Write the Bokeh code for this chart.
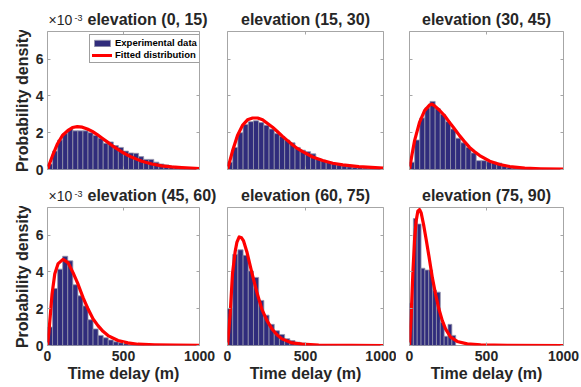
from bokeh.plotting import figure
from bokeh.models import Range1d, LinearAxis, FixedTicker, Legend, LegendItem, Label
from bokeh.layouts import row, column
from bokeh.embed import file_html
from bokeh.resources import INLINE

# ---------------- data (probability density in units of 1e-3) ----------------
titles = ["elevation (0, 15)", "elevation (15, 30)", "elevation (30, 45)",
          "elevation (45, 60)", "elevation (60, 75)", "elevation (75, 90)"]
x_ticks = [0, 500, 1000]
y_ticks = [0, 2, 4, 6]
y_exponent = "-3"
bin_widths = [33.3, 33.3, 33.3, 33.3, 33.3, 25.0]

hist1 = [0.3, 1.0, 1.6, 1.95, 2.2, 2.1, 2.1, 2.1, 2.0, 1.85, 1.7, 1.42, 1.5, 1.3, 1.2,
         1.0, 0.9, 0.88, 0.7, 0.55, 0.55, 0.4, 0.3, 0.25, 0.18, 0.15, 0.12, 0.1, 0.07, 0.05]
hist2 = [0.4, 1.2, 2.0, 2.45, 2.6, 2.65, 2.55, 2.4, 2.2, 1.95, 1.8, 1.6, 1.45, 1.2, 1.05,
         0.97, 0.85, 0.6, 0.5, 0.4, 0.32, 0.25, 0.2, 0.15, 0.12, 0.1, 0.08, 0.06, 0.04, 0.03]
hist3 = [0.4, 1.6, 2.8, 3.35, 3.7, 3.3, 3.0, 2.6, 2.2, 1.7, 1.45, 1.2, 0.9, 0.48, 0.48,
         0.42, 0.4, 0.35, 0.2, 0.12, 0.08, 0.05, 0.04, 0.03, 0.02, 0.01, 0.01, 0.01, 0.0, 0.0]
hist4 = [1.0, 3.1, 4.15, 4.85, 4.6, 3.3, 2.7, 2.15, 1.4, 0.9, 0.55, 0.42, 0.3, 0.2, 0.15,
         0.1, 0.06, 0.04, 0.03, 0.02, 0.01, 0.01, 0.0, 0.0, 0.0, 0.0, 0.0, 0.0, 0.0, 0.0]
hist5 = [2.0, 4.95, 5.2, 4.9, 4.05, 3.7, 2.45, 1.65, 1.15, 0.8, 0.6, 0.37, 0.27, 0.18, 0.14,
         0.1, 0.05, 0.04, 0.03, 0.02, 0.01, 0.0, 0.0, 0.0, 0.0, 0.0, 0.0, 0.0, 0.0, 0.0]
hist6 = [2.3, 6.9, 6.6, 4.2, 4.1, 4.1, 3.0, 2.9, 1.25, 0.5, 1.15, 0.55]

fit1_x = [0, 15, 33, 66, 98, 131, 164, 196, 229, 262, 295, 327, 360, 393, 425, 458, 490,
          523, 556, 589, 621, 687, 752, 817, 883, 1000]
fit1_y = [0, 0.35, 0.75, 1.4, 1.85, 2.1, 2.28, 2.33, 2.3, 2.2, 2.07, 1.9, 1.7, 1.5, 1.3,
          1.12, 0.95, 0.8, 0.66, 0.55, 0.45, 0.3, 0.2, 0.14, 0.1, 0.05]
fit2_x = [0, 16, 32, 64, 96, 128, 161, 193, 225, 257, 289, 321, 353, 385, 418, 450, 482,
          546, 610, 675, 739, 842, 1000]
fit2_y = [0, 0.5, 1.0, 1.85, 2.4, 2.7, 2.8, 2.8, 2.7, 2.5, 2.3, 2.05, 1.8, 1.57, 1.33,
          1.13, 0.97, 0.68, 0.49, 0.34, 0.25, 0.16, 0.08]
fit3_x = [0, 16, 33, 65, 98, 130, 145, 163, 195, 228, 260, 293, 325, 358, 390, 423, 456,
          521, 586, 651, 748, 853, 1000]
fit3_y = [0, 0.8, 1.57, 2.56, 3.2, 3.5, 3.55, 3.46, 3.22, 2.92, 2.56, 2.2, 1.84, 1.51,
          1.2, 0.97, 0.76, 0.45, 0.27, 0.16, 0.07, 0.04, 0.02]
fit4_x = [0, 10, 20, 30, 48, 70, 102, 135, 168, 201, 234, 267, 300, 332, 365, 398, 464,
          529, 595, 704, 835, 1000]
fit4_y = [0, 0.8, 1.8, 2.8, 3.9, 4.45, 4.68, 4.5, 3.96, 3.33, 2.6, 1.98, 1.44, 1.08, 0.77,
          0.54, 0.27, 0.14, 0.07, 0.04, 0.02, 0.01]
fit5_x = [0, 17, 32, 49, 60, 75, 90, 103, 124, 156, 188, 220, 253, 285, 317, 349, 413,
          478, 585, 1000]
fit5_y = [0, 1.7, 3.9, 5.1, 5.6, 5.9, 5.85, 5.68, 5.1, 3.96, 2.9, 1.98, 1.35, 0.9, 0.58,
          0.36, 0.14, 0.07, 0.02, 0.0]
fit6_x = [0, 11, 22, 33, 43, 54, 65, 76, 93, 108, 126, 148, 169, 191, 213, 234, 267, 310,
          375, 462, 636, 1000]
fit6_y = [0, 1.6, 3.96, 5.77, 6.76, 7.3, 7.39, 7.2, 6.5, 5.77, 4.86, 3.7, 2.8, 1.98, 1.35,
          0.9, 0.45, 0.22, 0.09, 0.04, 0.01, 0.0]

hists = [hist1, hist2, hist3, hist4, hist5, hist6]
fits = [(fit1_x, fit1_y), (fit2_x, fit2_y), (fit3_x, fit3_y),
        (fit4_x, fit4_y), (fit5_x, fit5_y), (fit6_x, fit6_y)]

# ---------------- layout / style ----------------
TOTAL_W = 581
W = [218, 178, 185]
H = [188, 199]
BL = [47, 9, 13]
BR = [19, 13, 18]
BT = [31, 19]
BB = [19, 42]
PAD = 1                 # part of the top border kept inside each panel
FONT = "Liberation Sans"
BAR_FILL = "#302c7c"
BAR_LINE = "#9494aa"
RED = "#ff0000"
BOX = "#a6a6a6"
TXT = "#262626"

# frame left/right edges in page pixels (for placing the header texts)
frame_left = [BL[0], W[0] + BL[1], W[0] + W[1] + BL[2]]
frame_right = [W[0] - BR[0], W[0] + W[1] - BR[1], TOTAL_W - BR[2]]


def add_axis(p, side, ticks, labels, axis_label=None):
    ax = LinearAxis(ticker=FixedTicker(ticks=ticks))
    ax.axis_line_color = None
    ax.major_tick_in = 3
    ax.major_tick_out = 0
    ax.major_tick_line_color = BOX
    ax.minor_tick_line_color = None
    if labels:
        ax.major_label_text_font = FONT
        ax.major_label_text_font_size = "14px"
        ax.major_label_text_font_style = "bold"
        ax.major_label_text_color = TXT
        ax.major_label_standoff = 4 if side == "left" else 5
    else:
        ax.major_label_text_color = None
        ax.major_label_text_font_size = "0px"
        ax.major_label_standoff = 0
    if axis_label:
        ax.axis_label = axis_label
        ax.axis_label_text_font = FONT
        ax.axis_label_text_font_size = "16px"
        ax.axis_label_text_font_style = "bold"
        ax.axis_label_text_color = TXT
        ax.axis_label_standoff = 2 if side == "left" else 1
    p.add_layout(ax, side)
    return ax


def make_header(r):
    """Full-width strip above a row of panels: exponent label and the three titles."""
    h = BT[r] - PAD
    hp = figure(width=TOTAL_W, height=h, x_range=Range1d(0, TOTAL_W),
                y_range=Range1d(0, h), title=None,
                output_backend="svg", toolbar_location=None,
                x_axis_location=None, y_axis_location=None, min_border=0,
                min_border_left=0, min_border_right=0, min_border_top=0, min_border_bottom=0)
    hp.grid.visible = False
    hp.outline_line_color = None
    hp.background_fill_color = "white"
    hp.border_fill_color = "white"
    base = 2.5
    hp.add_layout(Label(x=frame_left[0] + 1, y=base + 0.5, text="\u00d710", text_font=FONT,
                        text_font_size="14px", text_color=TXT,
                        text_baseline="bottom"))
    hp.add_layout(Label(x=frame_left[0] + 27, y=base + 7, text=y_exponent, text_font=FONT,
                        text_font_size="9px", text_color=TXT,
                        text_baseline="bottom"))
    for c in range(3):
        k = 3 * r + c
        if c == 0:
            x, align = frame_left[0] + 40, "left"
        else:
            x, align = (frame_left[c] + frame_right[c]) / 2, "center"
        hp.add_layout(Label(x=x, y=base, text=titles[k], text_font=FONT,
                            text_font_size="16px", text_font_style="bold",
                            text_color=TXT, text_align=align,
                            text_baseline="bottom"))
    return hp


panels = []
for k in range(6):
    r, c = divmod(k, 3)
    p = figure(width=W[c], height=H[r] - (BT[r] - PAD),
               x_range=Range1d(0, 1000), y_range=Range1d(0, 7.5),
               output_backend="svg", toolbar_location=None,
               x_axis_location=None, y_axis_location=None,
               min_border_left=BL[c], min_border_right=BR[c],
               min_border_top=PAD, min_border_bottom=BB[r], title=None)
    p.grid.visible = False
    p.background_fill_color = "white"
    p.border_fill_color = "white"
    p.outline_line_color = BOX
    p.outline_line_width = 1

    add_axis(p, "left", y_ticks, c == 0, "Probability density" if c == 0 else None)
    add_axis(p, "right", y_ticks, False)
    add_axis(p, "below", x_ticks, r == 1, "Time delay (m)" if r == 1 else None)
    add_axis(p, "above", x_ticks, False)

    w = bin_widths[k]
    heights = hists[k]
    centers = [(i + 0.5) * w for i in range(len(heights))]
    bars = p.vbar(x=centers, top=heights, width=w, bottom=0,
                  fill_color=BAR_FILL, line_color=BAR_LINE, line_width=0.8)
    fx, fy = fits[k]
    line = p.line(fx, fy, line_color=RED, line_width=3.2, line_join="round", line_cap="round")

    if k == 0:
        legend = Legend(items=[LegendItem(label="Experimental data", renderers=[bars]),
                               LegendItem(label="Fitted distribution", renderers=[line])],
                        location=(42, 106))
        legend.label_text_font = FONT
        legend.label_text_font_size = "9.5px"
        legend.label_text_font_style = "bold"
        legend.label_text_color = "black"
        legend.glyph_width = 20
        legend.glyph_height = 8
        legend.label_height = 9
        legend.label_standoff = 3
        legend.padding = 2
        legend.spacing = 1
        legend.margin = 0
        legend.border_line_color = "#404040"
        legend.border_line_width = 1
        legend.background_fill_color = "white"
        legend.background_fill_alpha = 1
        p.add_layout(legend)
    panels.append(p)

layout = column(make_header(0), row(*panels[0:3]),
                make_header(1), row(*panels[3:6]))
open("out.html", "w").write(file_html(layout, INLINE))
